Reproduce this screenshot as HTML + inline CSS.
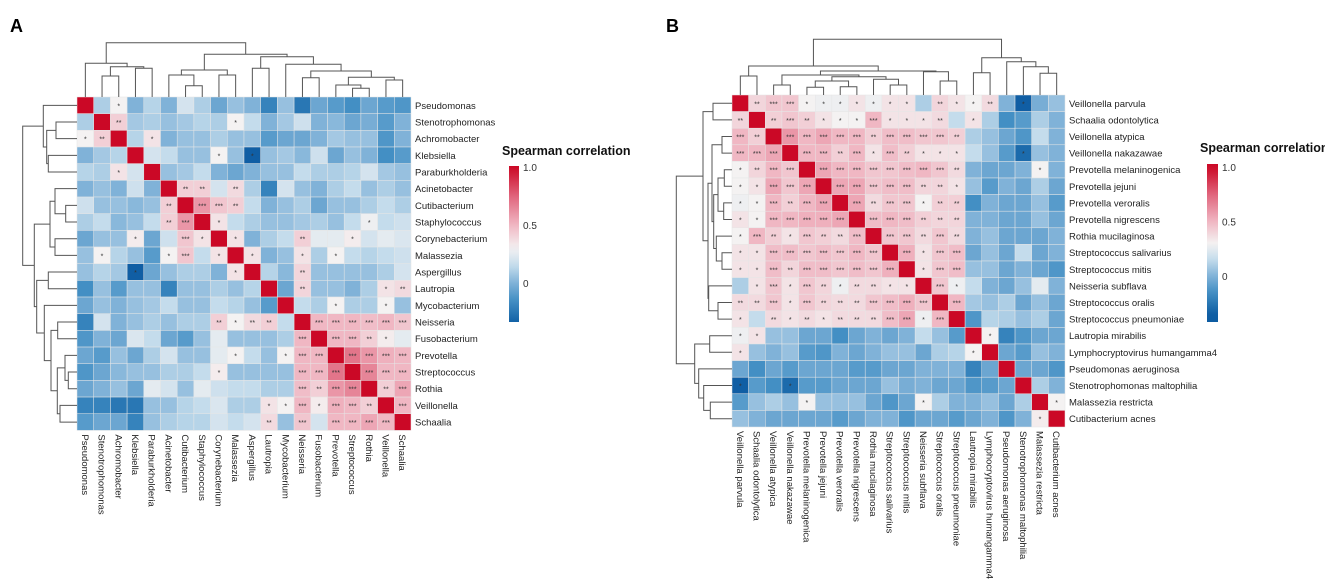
<!DOCTYPE html>
<html><head><meta charset="utf-8">
<style>
html,body{margin:0;padding:0;background:#fff;}
svg{display:block;font-family:"Liberation Sans",Arial,sans-serif;}
</style></head>
<body>
<svg id="chart" width="1325" height="586" viewBox="0 0 1325 586" xmlns="http://www.w3.org/2000/svg">
<defs>
<linearGradient id="gradA" x1="0" y1="0" x2="0" y2="1"></linearGradient>
<linearGradient id="gradB" x1="0" y1="0" x2="0" y2="1"></linearGradient>
</defs>
<text x="10" y="32" font-size="18" font-weight="bold">A</text>
<text x="666" y="32" font-size="18" font-weight="bold">B</text>
<g id="panelA"></g>
<g id="panelB"></g>
</svg>
<script>
const labelsA = ["Pseudomonas","Stenotrophomonas","Achromobacter","Klebsiella","Paraburkholderia","Acinetobacter","Cutibacterium","Staphylococcus","Corynebacterium","Malassezia","Aspergillus","Lautropia","Mycobacterium","Neisseria","Fusobacterium","Prevotella","Streptococcus","Rothia","Veillonella","Schaalia"];
const valuesA = [
[1,0.1,0.3,0.0,0.12,0.0,0.2,0.1,-0.05,0.05,0.0,-0.2,0.05,-0.25,-0.05,-0.1,-0.15,-0.05,-0.1,-0.12],
[0.1,1,0.42,0.08,0.1,0.05,0.08,0.12,0.1,0.3,0.15,0.0,0.08,0.18,0.0,0.02,-0.05,-0.02,-0.1,0.0],
[0.3,0.42,1,0.12,0.35,0.0,0.05,0.05,0.1,0.05,0.05,-0.1,-0.05,-0.05,0.0,0.08,0.05,0.05,-0.12,0.0],
[0.0,0.08,0.12,1,0.2,0.15,0.05,0.05,0.3,0.05,-0.35,0.05,0.08,0.02,0.18,-0.05,0.05,0.0,-0.15,-0.1],
[0.12,0.1,0.35,0.2,1,0.05,0.08,0.15,0.0,-0.05,0.0,0.05,0.05,0.15,0.1,0.1,0.12,0.2,0.08,0.05],
[0.0,0.05,0.0,0.18,0.0,1,0.42,0.42,0.2,0.38,0.1,-0.2,0.2,0.05,0.0,0.1,0.15,0.05,0.1,0.05],
[0.18,0.05,0.05,0.02,0.05,0.42,1,0.6,0.45,0.42,0.15,0.0,0.05,0.1,-0.05,0.05,0.05,0.1,0.15,0.1],
[0.1,0.15,0.02,0.05,0.15,0.42,0.6,1,0.35,0.15,0.1,0.05,0.05,0.08,0.1,0.05,0.15,0.28,0.15,0.18],
[-0.05,0.05,0.05,0.32,-0.05,0.18,0.45,0.35,1,0.35,0.0,0.1,0.15,0.42,0.25,0.25,0.32,0.2,0.25,0.22],
[0.05,0.3,0.12,0.05,-0.1,0.3,0.45,0.15,0.35,1,0.35,0.0,0.05,0.35,0.1,0.3,0.15,0.12,0.15,0.18],
[0.05,0.12,0.08,-0.35,-0.05,0.05,0.1,0.1,0.0,0.35,1,0.12,0.02,0.4,0.05,0.05,0.05,0.05,0.1,0.2],
[-0.15,0.05,-0.1,0.05,0.05,-0.2,0.05,0.05,0.1,0.05,0.12,1,-0.05,0.4,0.05,0.05,0.0,0.1,0.35,0.38],
[-0.05,0.05,0.0,0.05,0.08,0.15,0.05,0.05,0.15,0.12,0.05,-0.1,1,0.15,0.1,0.3,0.1,0.1,0.3,0.05],
[-0.2,0.2,0.0,0.05,0.1,0.05,0.1,0.1,0.42,0.3,0.38,0.42,0.15,1,0.5,0.5,0.5,0.48,0.5,0.45],
[-0.12,0.0,-0.05,0.22,0.15,-0.05,-0.1,0.05,0.25,0.05,0.05,0.05,0.1,0.5,1,0.5,0.5,0.42,0.32,0.25],
[-0.05,-0.1,0.05,-0.05,0.1,0.2,0.05,0.05,0.25,0.3,0.15,0.05,0.3,0.5,0.5,1,0.7,0.6,0.52,0.5],
[-0.12,-0.05,0.02,0.05,0.05,0.1,0.1,0.15,0.32,0.05,0.05,0.05,0.05,0.5,0.5,0.7,1,0.65,0.5,0.5],
[-0.05,0.0,0.05,-0.05,0.25,0.2,0.05,0.25,0.18,0.15,0.15,0.1,0.1,0.48,0.42,0.6,0.65,1,0.42,0.55],
[-0.2,-0.2,-0.25,-0.25,0.05,0.05,0.12,0.15,0.22,0.1,0.1,0.35,0.3,0.5,0.32,0.52,0.5,0.42,1,0.5],
[-0.1,-0.05,-0.05,-0.2,0.05,0.1,0.12,0.12,0.2,0.15,0.2,0.38,0.05,0.45,0.2,0.5,0.5,0.55,0.5,1]
];
const treeA = [[0,[[1,2,21],[3,4,28.7],30.3],33.7],[[[5,[6,7,11.3],22],[8,9,22],27],[[10,11,28.7],[12,[[13,14,19.3],[[15,[16,17,8.7],12],[18,19,17],19.7],26],32.7],40.3],42.7],54.3];

const labelsB = ["Veillonella parvula","Schaalia odontolytica","Veillonella atypica","Veillonella nakazawae","Prevotella melaninogenica","Prevotella jejuni","Prevotella veroralis","Prevotella nigrescens","Rothia mucilaginosa","Streptococcus salivarius","Streptococcus mitis","Neisseria subflava","Streptococcus oralis","Streptococcus pneumoniae","Lautropia mirabilis","Lymphocryptovirus humangamma4","Pseudomonas aeruginosa","Stenotrophomonas maltophilia","Malassezia restricta","Cutibacterium acnes"];
const valuesB = [
[1,0.4,0.45,0.45,0.3,0.28,0.28,0.35,0.28,0.35,0.35,0.1,0.4,0.35,0.3,0.38,0.0,-0.35,-0.02,0.05],
[0.4,1,0.42,0.45,0.42,0.35,0.3,0.3,0.5,0.35,0.35,0.35,0.38,0.15,0.35,0.1,-0.15,-0.1,0.1,0.0],
[0.5,0.42,1,0.6,0.5,0.55,0.5,0.5,0.42,0.48,0.48,0.45,0.45,0.42,0.1,0.05,-0.05,-0.12,0.15,0.0],
[0.5,0.5,0.55,1,0.5,0.5,0.42,0.5,0.35,0.48,0.42,0.35,0.35,0.35,0.15,0.05,-0.1,-0.3,0.05,0.0],
[0.3,0.4,0.5,0.45,1,0.55,0.5,0.5,0.45,0.45,0.48,0.5,0.45,0.38,0.0,-0.05,-0.05,0.0,0.3,0.0],
[0.3,0.35,0.55,0.45,0.55,1,0.55,0.55,0.45,0.48,0.48,0.4,0.4,0.35,0.05,-0.1,0.0,-0.05,0.1,-0.05],
[0.28,0.3,0.5,0.42,0.5,0.55,1,0.55,0.38,0.45,0.45,0.3,0.42,0.42,-0.15,0.0,-0.05,-0.05,0.05,-0.1],
[0.35,0.3,0.5,0.5,0.52,0.52,0.55,1,0.48,0.5,0.48,0.42,0.4,0.4,0.0,0.0,-0.05,-0.05,0.05,-0.05],
[0.3,0.5,0.42,0.35,0.45,0.42,0.38,0.48,1,0.45,0.45,0.38,0.45,0.38,0.0,0.05,-0.05,-0.05,-0.05,0.0],
[0.35,0.35,0.48,0.48,0.45,0.48,0.45,0.5,0.45,1,0.52,0.35,0.45,0.48,-0.05,0.05,-0.05,0.15,-0.05,0.0],
[0.35,0.35,0.48,0.4,0.48,0.48,0.45,0.48,0.45,0.52,1,0.35,0.45,0.48,0.05,0.05,-0.05,0.0,-0.05,-0.12],
[0.1,0.35,0.45,0.35,0.45,0.4,0.28,0.38,0.38,0.35,0.35,1,0.45,0.28,0.15,0.0,-0.05,0.05,0.25,0.0],
[0.38,0.38,0.45,0.35,0.45,0.4,0.38,0.38,0.45,0.48,0.52,0.45,1,0.5,0.08,0.05,0.1,-0.05,0.05,-0.05],
[0.35,0.15,0.38,0.35,0.38,0.35,0.38,0.38,0.38,0.48,0.55,0.28,0.5,1,-0.12,0.12,0.1,0.05,0.1,-0.05],
[0.28,0.35,0.05,0.05,-0.05,-0.05,-0.15,-0.05,0.0,-0.05,0.0,0.15,0.05,-0.1,1,0.3,-0.2,-0.12,-0.05,-0.05],
[0.35,0.05,0.0,0.05,-0.1,-0.12,0.0,-0.05,0.0,0.05,0.05,-0.05,0.1,0.12,0.3,1,-0.05,-0.1,0.05,0.0],
[-0.05,-0.15,-0.05,-0.1,-0.05,-0.05,-0.05,-0.1,-0.1,-0.05,-0.05,0.0,0.0,0.0,-0.2,-0.05,1,-0.05,-0.05,-0.12],
[-0.35,-0.1,-0.15,-0.3,-0.1,-0.1,-0.05,-0.05,-0.05,0.05,-0.02,0.0,-0.05,-0.05,-0.12,-0.1,-0.05,1,0.1,0.0],
[-0.1,0.05,0.1,0.05,0.3,0.05,0.05,0.05,-0.05,-0.12,-0.05,0.3,0.1,0.0,0.0,0.05,-0.05,0.1,1,0.3],
[0.05,0.0,-0.05,-0.05,-0.05,-0.05,-0.1,-0.05,0.0,0.0,-0.12,-0.05,-0.05,-0.1,-0.05,0.0,-0.12,0.0,0.32,1]
];
const treeB = [[[0,1,19],[[[2,3,10],[[[4,5,7.7],[6,7,8.3],14],[8,[9,10,10],15.7],18.3],20],[11,[12,13,14],23.3],24],29],[[14,15,22.3],[16,[17,[18,19,21.7],28.3],33.3],37.3],55.7];

const legendTicks = [1.0, 0.5, 0];
const legendTickText = ["1.0","0.5","0"];

const NS = "http://www.w3.org/2000/svg";
function mk(tag, attrs, parent){
  const e = document.createElementNS(NS, tag);
  for (const k in attrs) e.setAttribute(k, attrs[k]);
  parent.appendChild(e);
  return e;
}
const stops = [[-0.36,[13,92,162]],[-0.15,[67,143,196]],[0,[128,178,216]],[0.15,[196,220,236]],[0.3,[244,242,242]],[0.5,[240,183,195]],[0.75,[224,100,124]],[1.0,[203,8,38]]];
function color(v){
  if (v<=stops[0][0]) return "rgb("+stops[0][1].join(",")+")";
  for (let i=1;i<stops.length;i++){
    if (v<=stops[i][0]){
      const a=stops[i-1], b=stops[i], t=(v-a[0])/(b[0]-a[0]);
      const c=a[1].map((x,j)=>Math.round(x+(b[1][j]-x)*t));
      return "rgb("+c.join(",")+")";
    }
  }
  return "rgb("+stops[stops.length-1][1].join(",")+")";
}
function stars(v){ if (v>=0.99) return ""; if (v>=0.45) return "***"; if (v>=0.38) return "**"; if (v>=0.28) return "*"; if (v<=-0.28) return "*"; return ""; }

function drawPanel(g, labels, values, tree, cfg){
  const n = labels.length;
  const xS = i => cfg.x0 + cfg.cw*i;
  const yS = i => cfg.y0 + cfg.ch*i;
  for (let r=0;r<n;r++){
    for (let c=0;c<n;c++){
      const v = values[r][c];
      const rect = mk("rect",{x:xS(c),y:yS(r),width:cfg.cw,height:cfg.ch,fill:color(v),stroke:"#e6e6e6","stroke-width":0.5},g);
      
      
      const s = stars(v);
      if (s){
        const t = mk("text",{x:xS(c)+cfg.cw/2,y:yS(r)+cfg.ch/2+3,"font-size":7,"text-anchor":"middle",fill:"#333"},g);
        t.textContent = s;
        
        
      }
    }
  }
  for (let i=0;i<n;i++){
    const t = mk("text",{x:cfg.x0+cfg.cw*n+4,y:yS(i)+cfg.ch/2+3.5,"font-size":9.5,fill:"#222"},g);
    t.textContent = labels[i];
    
    
    const cx = xS(i)+cfg.cw/2-3.5, cy = cfg.y0+cfg.ch*n+4;
    const u = mk("text",{x:cx,y:cy,"font-size":9.5,fill:"#222",transform:"rotate(90 "+cx+" "+cy+")"},g);
    u.textContent = labels[i];
    
    
  }
  // dendrograms
  function walk(node, drawFn){
    if (typeof node === "number") return {p:node+0.5, h:0};
    const a = walk(node[0], drawFn), b = walk(node[1], drawFn), h=node[2];
    drawFn(a,b,h);
    return {p:(a.p+b.p)/2, h:h};
  }
  const top = mk("g",{},g);
  
  
  walk(tree, (a,b,h)=>{
    const X=p=>cfg.x0+cfg.cw*p, Y=hh=>cfg.y0-hh;
    mk("path",{d:"M"+X(a.p)+" "+Y(a.h)+"V"+Y(h)+"H"+X(b.p)+"V"+Y(b.h),fill:"none",stroke:"#555","stroke-width":1},top);
  });
  const left = mk("g",{},g);
  
  
  walk(tree, (a,b,h)=>{
    const Y=p=>cfg.y0+cfg.ch*p, X=hh=>cfg.x0-hh;
    mk("path",{d:"M"+X(a.h)+" "+Y(a.p)+"H"+X(h)+"V"+Y(b.p)+"H"+X(b.h),fill:"none",stroke:"#555","stroke-width":1},left);
  });
  // legend
  const L = cfg.leg;
  const vTop=(L.zeroY-L.top)/L.unit, vBot=(L.zeroY-L.bot)/L.unit;
  const grad = document.getElementById(L.grad);
  for (let k=0;k<=20;k++){
    const v = vTop+(vBot-vTop)*k/20;
    mk("stop",{offset:(k*5)+"%","stop-color":color(v)},grad);
  }
  const lg = mk("g",{},g);
  
  
  const tt = mk("text",{x:L.tx,y:L.ty,"font-size":12.5,"font-weight":"bold",fill:"#111"},lg);
  tt.textContent = "Spearman correlation";
  
  
  const bar = mk("rect",{x:L.x,y:L.top,width:L.w,height:L.bot-L.top,fill:"url(#"+L.grad+")"},lg);
  
  
  legendTicks.forEach((v,i)=>{
    const t = mk("text",{x:L.x+L.w+4,y:L.zeroY-v*L.unit+4,"font-size":10,fill:"#333"},lg);
    t.textContent = legendTickText[i];
    
    
  });
}
drawPanel(document.getElementById("panelA"), labelsA, valuesA, treeA,
  {x0:77,y0:97,cw:16.7,ch:16.67,leg:{grad:"gradA",x:509,w:10,top:166,bot:322,zeroY:283,unit:116,tx:502,ty:155}});
drawPanel(document.getElementById("panelB"), labelsB, valuesB, treeB,
  {x0:732,y0:95,cw:16.65,ch:16.6,leg:{grad:"gradB",x:1207,w:11,top:164,bot:322,zeroY:276,unit:109,tx:1200,ty:152}});
</script>
</body></html>
